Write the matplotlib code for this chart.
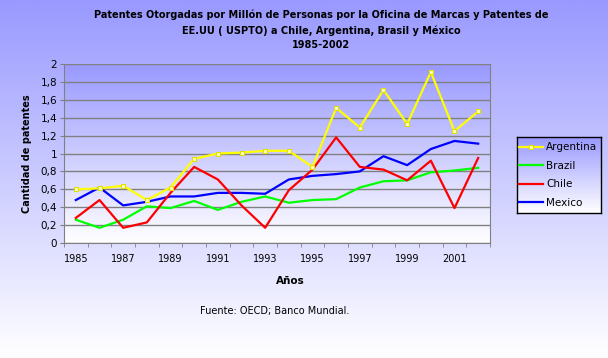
import numpy as np
import matplotlib
matplotlib.use("Agg")
import matplotlib.pyplot as plt
from matplotlib.colors import LinearSegmentedColormap


years = list(range(1985, 2003))
argentina = [0.60, 0.61, 0.64, 0.48, 0.62, 0.94, 1.00, 1.01, 1.03, 1.03,
             0.85, 1.51, 1.29, 1.71, 1.33, 1.91, 1.25, 1.47]
brazil = [0.26, 0.17, 0.26, 0.41, 0.39, 0.47, 0.37, 0.46, 0.52, 0.45,
          0.48, 0.49, 0.62, 0.69, 0.70, 0.79, 0.81, 0.84]
chile = [0.28, 0.48, 0.17, 0.23, 0.56, 0.85, 0.71, 0.42, 0.17, 0.59,
         0.82, 1.18, 0.85, 0.82, 0.70, 0.92, 0.39, 0.95]
mexico = [0.48, 0.62, 0.42, 0.46, 0.52, 0.52, 0.56, 0.56, 0.55, 0.71,
          0.75, 0.77, 0.80, 0.97, 0.87, 1.05, 1.14, 1.11]
y_ticks = [0, 0.2, 0.4, 0.6, 0.8, 1.0, 1.2, 1.4, 1.6, 1.8, 2.0]

BLUE_TOP = "#9999FF"
W, H = 608, 358
grad = LinearSegmentedColormap.from_list("g", [BLUE_TOP, "#FFFFFF"])
ramp = np.linspace(0, 1, 256).reshape(-1, 1)

fig = plt.figure(figsize=(W / 100, H / 100), dpi=100)

# figure background gradient
bg = fig.add_axes([0, 0, 1, 1], zorder=-10)
bg.imshow(ramp, cmap=grad, aspect="auto", extent=[0, 1, 0, 1])
bg.axis("off")

ax = fig.add_axes([64 / W, 1 - 243 / H, 426 / W, 179 / H])
ax.imshow(ramp, cmap=grad, aspect="auto", extent=[-0.5, 17.5, 0, 2], zorder=0)

x = np.arange(len(years))
ax.plot(x, mexico, color="#0000FF", lw=1.6, label="Mexico", zorder=3)
ax.plot(x, brazil, color="#00FF00", lw=1.6, label="Brazil", zorder=3)
ax.plot(x, chile, color="#FF0000", lw=1.6, label="Chile", zorder=3)
ax.plot(x, argentina, color="#FFFF00", lw=1.6, marker="s", ms=3.5,
        mfc="#FFFFC0", mec="#E0E000", mew=0.8, label="Argentina", zorder=4)

ax.set_xlim(-0.5, 17.5)
ax.set_ylim(0, 2)
ax.set_yticks(y_ticks)
ax.set_yticklabels([("%g" % v).replace(".", ",") for v in y_ticks], fontsize=7.5)
ax.set_xticks(x[::2])
ax.set_xticklabels([str(y) for y in years[::2]], fontsize=7)
ax.set_xticks(np.arange(-0.5, 18, 1), minor=True)
ax.tick_params(axis="x", which="major", length=0, pad=8)
ax.tick_params(axis="x", which="minor", length=3, color="#808080", direction="out")
ax.tick_params(axis="y", length=3, color="#808080", direction="out", pad=2)
ax.grid(axis="y", color="#808080", lw=1.0, zorder=1)
ax.set_axisbelow(True)
ax.spines["top"].set_visible(False)
for side in ["left", "bottom", "right"]:
    ax.spines[side].set_color("#808080")

ax.set_ylabel("Cantidad de patentes", fontsize=7, fontweight="bold", labelpad=6)

fig.text(290 / W, 1 - 281 / H, "Años", ha="center", va="center",
         fontsize=7.5, fontweight="bold")
fig.text(321 / W, 1 - 15 / H,
         "Patentes Otorgadas por Millón de Personas por la Oficina de Marcas y Patentes de",
         ha="center", va="center", fontsize=7, fontweight="bold")
fig.text(321 / W, 1 - 31 / H, "EE.UU ( USPTO) a Chile, Argentina, Brasil y México",
         ha="center", va="center", fontsize=7, fontweight="bold")
fig.text(321 / W, 1 - 45 / H, "1985-2002",
         ha="center", va="center", fontsize=7, fontweight="bold")
fig.text(275 / W, 1 - 311 / H, "Fuente: OECD; Banco Mundial.",
         ha="center", va="center", fontsize=7)

# legend with gradient box
lx, ly, lw_, lh = 517 / W, 1 - 213 / H, 84 / W, 76 / H
lbg = fig.add_axes([lx, ly, lw_, lh], zorder=1)
lbg.imshow(ramp, cmap=grad, aspect="auto", extent=[0, 1, 0, 1])
lbg.set_xticks([])
lbg.set_yticks([])
for s in lbg.spines.values():
    s.set_color("black")
    s.set_linewidth(1.0)

handles, labels = ax.get_legend_handles_labels()
order = [3, 1, 2, 0]
leg = fig.legend([handles[i] for i in order], [labels[i] for i in order],
                 loc="center", bbox_to_anchor=(558 / W, 1 - 175 / H),
                 frameon=False, fontsize=7.5, handlelength=2.3,
                 handletextpad=0.3, labelspacing=0.8, borderpad=0,
                 borderaxespad=0, markerscale=0.9)
leg.set_zorder(20)

fig.savefig("out.png", dpi=100)
